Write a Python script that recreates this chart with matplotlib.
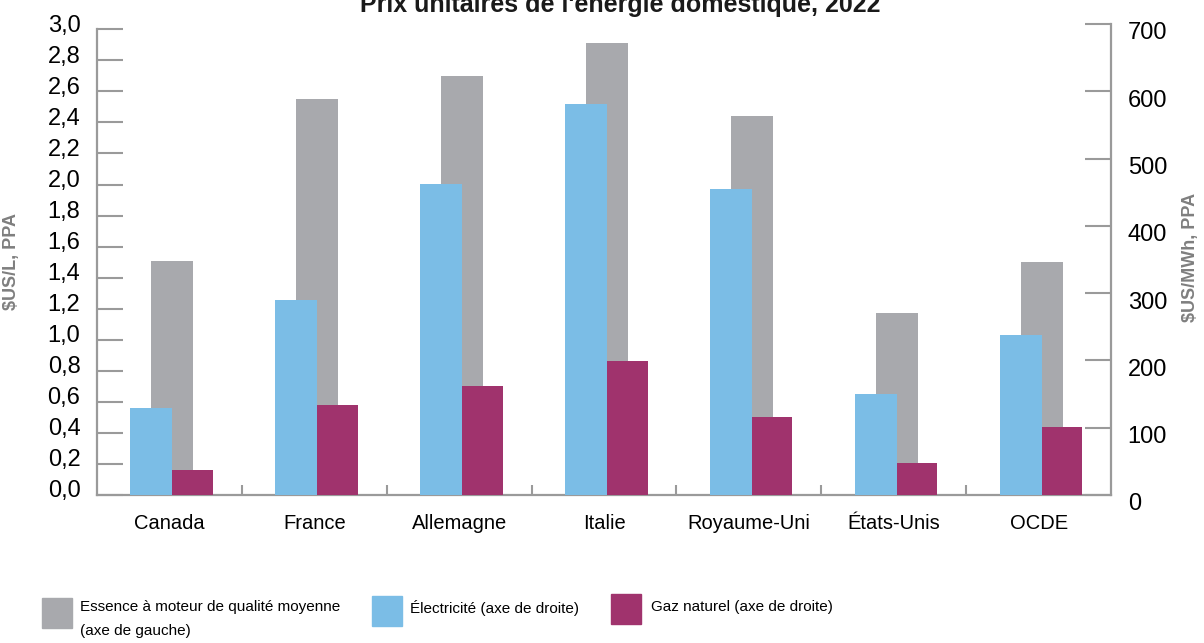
import numpy as np
import matplotlib
matplotlib.use("Agg")
import matplotlib.pyplot as plt
from matplotlib.patches import Rectangle
from matplotlib.transforms import ScaledTranslation

plt.rcParams["font.family"] = ["Liberation Sans Narrow", "Liberation Sans", "DejaVu Sans"]

# Data
countries = ["Canada", "France", "Allemagne", "Italie", "Royaume-Uni", "États-Unis", "OCDE"]
essence = [1.51, 2.55, 2.70, 2.91, 2.44, 1.17, 1.50]          # $US/L (left axis)
electricite = [129, 290, 462, 581, 455, 150, 238]             # $US/MWh (right axis)
gaz = [37, 134, 162, 199, 116, 47, 101]                       # $US/MWh (right axis)
left_ticks = np.arange(0, 3.01, 0.2)
right_ticks = np.arange(0, 701, 100)

GREY = "#a8a9ad"
BLUE = "#7bbde6"
MAGENTA = "#a0336d"
AXIS = "#9a9a9a"
LABEL = "#7f7f7f"

fig = plt.figure(figsize=(12.04, 6.43), dpi=100)
ax = fig.add_axes([0.0806, 0.2302, 0.8422, 0.7325])
ax2 = ax.twinx()

x = np.arange(len(countries))
off = 0.02
w = 0.29

ax.bar(x + off, essence, width=w, color=GREY, zorder=1)
ax2.bar(x + off - w / 2, electricite, width=w, color=BLUE, zorder=2)
ax2.bar(x + off + 0.28 / 2, gaz, width=0.28, color=MAGENTA, zorder=2)

ax.set_xlim(-0.5, len(countries) - 0.5)
ax.set_ylim(0, 3.034)
ax2.set_ylim(0, 700)

# spines
for s in ["top", "right"]:
    ax.spines[s].set_visible(False)
for s in ["top", "left", "bottom"]:
    ax2.spines[s].set_visible(False)
ax.spines["left"].set_bounds(0, 3.0)
for sp in [ax.spines["left"], ax.spines["bottom"], ax2.spines["right"]]:
    sp.set_color(AXIS)
    sp.set_linewidth(1.6)

# left axis ticks
ax.set_yticks(left_ticks)
ax.set_yticklabels([f"{v:.1f}".replace(".", ",") for v in left_ticks])
ax.tick_params(axis="y", direction="in", length=19, width=1.5, color=AXIS,
               pad=12, labelsize=17)

# right axis ticks
ax2.set_yticks(right_ticks)
ax2.set_yticklabels([str(int(v)) for v in right_ticks])
ax2.tick_params(axis="y", direction="in", length=19, width=1.5, color=AXIS,
                pad=12, labelsize=17)

# category axis
ax.set_xticks(x)
ax.set_xticklabels(countries)
ax.set_xticks(np.arange(0.5, len(countries) - 0.5), minor=True)
ax.tick_params(axis="x", which="major", length=0, pad=14, labelsize=14.5)
ax.tick_params(axis="x", which="minor", direction="in", length=7, width=1.5, color=AXIS)

# the tick labels in the source sit a little off the tick marks
up = ScaledTranslation(0, 6 / 100, fig.dpi_scale_trans)
down = ScaledTranslation(0, -7 / 100, fig.dpi_scale_trans)
for lab in ax.get_yticklabels():
    lab.set_transform(lab.get_transform() + up)
for lab in ax2.get_yticklabels():
    lab.set_transform(lab.get_transform() + down)

fig.text(12 / 1204, 1 - 262 / 643, "$US/L, PPA", rotation=90, ha="center", va="center",
         fontsize=13, fontweight="bold", color=LABEL)
fig.text(1190 / 1204, 1 - 257 / 643, "$US/MWh, PPA", rotation=90, ha="center", va="center",
         fontsize=13, fontweight="bold", color=LABEL)

fig.text(620 / 1204, 1 - 12 / 643, "Prix unitaires de l'énergie domestique, 2022",
         ha="center", va="baseline", fontsize=18, fontweight="bold", color="#1a1a1a")

# legend, drawn by hand to match the source layout
legend = [
    (GREY, 42, 598, "Essence à moteur de qualité moyenne\n(axe de gauche)", 80),
    (BLUE, 372, 596, "Électricité (axe de droite)", 410),
    (MAGENTA, 611, 594, "Gaz naturel (axe de droite)", 651),
]
for color, px, py, text, tx in legend:
    fig.patches.append(Rectangle((px / 1204, 1 - (py + 30) / 643), 30 / 1204, 30 / 643,
                                 transform=fig.transFigure, color=color))
    fig.text(tx / 1204, 1 - 600 / 643, text, ha="left", va="top", fontsize=11,
             linespacing=1.9)

fig.savefig("out.png", dpi=100)
